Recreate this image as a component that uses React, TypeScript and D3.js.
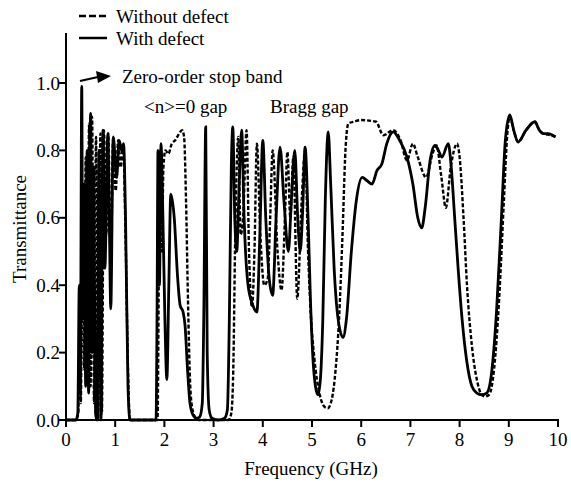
import React from "react";
import * as d3 from "d3";

const xTicks = [0, 1, 2, 3, 4, 5, 6, 7, 8, 9, 10];
const yTicks = [0, 0.2, 0.4, 0.6, 0.8, 1.0];

// Without defect (dashed)
const withoutFreq = [
  0, 0.2, 0.25, 0.28, 0.3, 0.34, 0.37, 0.4, 0.43, 0.47, 0.5, 0.53, 0.57, 0.61, 0.65, 0.7, 0.73, 0.77, 0.82, 0.86, 0.91, 0.96, 1.01, 1.06, 1.11, 1.16, 1.21, 1.26, 1.3,
  1.86, 1.89, 1.92, 1.95, 1.98, 2.02, 2.08, 2.15, 2.22, 2.3, 2.36, 2.4, 2.44, 2.48, 2.52, 2.56, 2.62, 2.7, 3.3, 3.36, 3.4,
  3.44, 3.47, 3.5, 3.55, 3.6, 3.67, 3.72, 3.78, 3.83, 3.88, 3.95, 4.03, 4.1, 4.15, 4.2, 4.3, 4.38, 4.45, 4.5, 4.56, 4.62,
  4.7, 4.79, 4.86, 4.92, 4.97, 5.05, 5.15, 5.25, 5.32, 5.4, 5.48, 5.55, 5.62, 5.68, 5.74, 5.85, 6.0, 6.3, 6.45, 6.65, 6.8, 6.93,
  7.05, 7.15, 7.32, 7.45, 7.53, 7.63, 7.72, 7.82, 7.95, 8.0, 8.08, 8.15, 8.25, 8.35, 8.45, 8.52, 8.6, 8.7, 8.8, 8.9,
  8.97, 9.02, 9.1, 9.19, 9.35, 9.53, 9.62, 9.7, 9.85, 9.95,
];
const withoutT = [
  0, 0, 0.02, 0.3, 0.05, 0.62, 0.15, 0.78, 0.25, 0.88, 0.1, 0.9, 0.05, 0.84, 0.0, 0.85, 0.02, 0.86, 0.55, 0.85, 0.45, 0.84, 0.68, 0.83, 0.75, 0.82, 0.55, 0.15, 0.0,
  0, 0.5, 0.8, 0.5, 0.75, 0.8, 0.79, 0.82, 0.83, 0.85, 0.86, 0.84, 0.65, 0.35, 0.12, 0.04, 0.01, 0, 0, 0.02, 0.15,
  0.55, 0.75, 0.84, 0.55, 0.6, 0.86, 0.5, 0.335, 0.5, 0.82, 0.55, 0.4, 0.42, 0.6, 0.8, 0.5, 0.385, 0.6, 0.795, 0.6, 0.78,
  0.36, 0.65, 0.8, 0.5, 0.33, 0.18, 0.08, 0.04, 0.035, 0.06, 0.15, 0.3, 0.55, 0.8, 0.88, 0.885, 0.89, 0.885, 0.845, 0.86, 0.83, 0.77,
  0.82, 0.78, 0.72, 0.79, 0.815, 0.72, 0.63, 0.75, 0.82, 0.78, 0.6, 0.4, 0.22, 0.12, 0.075, 0.07, 0.075, 0.15, 0.35, 0.65,
  0.85, 0.9, 0.86, 0.825, 0.86, 0.885, 0.86, 0.85, 0.845, 0.84,
];

// With defect (solid)
const withFreq = [
  0, 0.2, 0.24, 0.27, 0.29, 0.32, 0.34, 0.37, 0.4, 0.43, 0.46, 0.5, 0.53, 0.56, 0.6, 0.63, 0.67, 0.71, 0.75, 0.79, 0.85, 0.88, 0.91, 0.96, 1.03, 1.08, 1.13, 1.17, 1.21, 1.26, 1.3,
  1.83, 1.85, 1.87, 1.9, 1.93, 1.97, 2.01, 2.05, 2.09, 2.13, 2.2, 2.27, 2.32, 2.38, 2.42, 2.47, 2.52, 2.58, 2.65, 2.72, 2.77, 2.8, 2.84, 2.87, 2.91, 2.97, 3.1, 3.22, 3.28,
  3.32, 3.36, 3.39, 3.43, 3.47, 3.52, 3.57, 3.62, 3.7, 3.8, 3.88, 3.94, 4.0, 4.06, 4.13, 4.2, 4.27, 4.35, 4.43, 4.52, 4.58, 4.65, 4.71, 4.76, 4.81, 4.86,
  4.92, 4.97, 5.02, 5.07, 5.12, 5.17, 5.22, 5.27, 5.33, 5.38, 5.45, 5.53, 5.63, 5.7, 5.8, 5.9, 6.02, 6.12, 6.22, 6.32, 6.42, 6.52, 6.65, 6.78, 6.93,
  7.05, 7.15, 7.23, 7.3, 7.4, 7.5, 7.57, 7.64, 7.77, 7.83, 7.9, 7.97, 8.05, 8.15, 8.25, 8.35, 8.45, 8.55, 8.65, 8.75, 8.85, 8.93, 9.02, 9.1, 9.19, 9.35, 9.53, 9.62, 9.7, 9.8, 9.95,
];
const withT = [
  0, 0, 0.02, 0.4, 0.08, 0.99, 0.3, 0.7, 0.1, 0.8, 0.08, 0.91, 0.2, 0.75, 0.02, 0.0, 0.8, 0.0, 0.86, 0.45, 0.85, 0.6, 0.33, 0.84, 0.72, 0.83, 0.8, 0.82, 0.6, 0.1, 0.0,
  0, 0.3, 0.8, 0.4, 0.82, 0.6, 0.3, 0.12, 0.4, 0.67, 0.6, 0.42, 0.34, 0.32, 0.28, 0.15, 0.05, 0.015, 0.005, 0.01, 0.05, 0.3, 0.87, 0.2, 0.03, 0.005, 0, 0.005, 0.03,
  0.3, 0.75, 0.87, 0.6, 0.5, 0.7, 0.86, 0.6, 0.4, 0.34, 0.32, 0.55, 0.83, 0.6, 0.42, 0.37, 0.6, 0.81, 0.65, 0.5, 0.65, 0.8, 0.6, 0.5, 0.62, 0.81,
  0.6, 0.35, 0.18, 0.1, 0.075, 0.12, 0.3, 0.65, 0.855, 0.7, 0.45, 0.3, 0.245, 0.3, 0.5, 0.65, 0.72, 0.71, 0.7, 0.74, 0.76, 0.82, 0.855, 0.83, 0.78,
  0.7, 0.6, 0.57, 0.63, 0.77, 0.815, 0.8, 0.78, 0.82, 0.75, 0.6, 0.45, 0.3, 0.17, 0.1, 0.08, 0.075, 0.08, 0.14, 0.32, 0.6, 0.83, 0.905, 0.86, 0.825, 0.86, 0.885, 0.86, 0.85, 0.85, 0.84,
];

const W = 571;
const H = 483;
const FONT = "Liberation Serif, DejaVu Serif, serif";
const txt = { fontFamily: FONT, fill: "#000" } as React.CSSProperties;

export default function App() {
  const x = d3.scaleLinear().domain([0, 10]).range([66, 558]);
  const y = d3.scaleLinear().domain([0, 1]).range([420, 83]);

  const mk = (fs: number[], ts: number[]) =>
    d3
      .line<number>()
      .x((d) => x(d))
      .y((d, i) => y(ts[i]))
      .curve(d3.curveMonotoneX)(fs) || "";

  const pathWithout = mk(withoutFreq, withoutT);
  const pathWith = mk(withFreq, withT);

  return (
    <svg
      width={W}
      height={H}
      style={{ position: "absolute", left: 0, top: 0, background: "#fff" }}
    >
      <rect width={W} height={H} fill="#fff" />
      {/* curves */}
      <path d={pathWithout} fill="none" stroke="#000" strokeWidth={2.4} strokeDasharray="4,2" />
      <path d={pathWith} fill="none" stroke="#000" strokeWidth={2.8} />

      {/* axes */}
      <line x1={x(0)} x2={x(0)} y1={33} y2={y(0) + 1} stroke="#000" strokeWidth={2} />
      <line x1={x(0) - 1} x2={x(10) + 1} y1={y(0)} y2={y(0)} stroke="#000" strokeWidth={2} />
      {yTicks.map((t) => (
        <g key={"y" + t}>
          <line x1={x(0) - 7} x2={x(0)} y1={y(t)} y2={y(t)} stroke="#000" strokeWidth={2} />
          <text x={x(0) - 6} y={y(t) + 6.5} fontSize={19} textAnchor="end" style={txt}>
            {t.toFixed(1)}
          </text>
        </g>
      ))}
      {xTicks.map((t) => (
        <g key={"x" + t}>
          <line x1={x(t)} x2={x(t)} y1={y(0)} y2={y(0) + 7} stroke="#000" strokeWidth={2} />
          <text x={x(t)} y={446} fontSize={19} textAnchor="middle" style={txt}>
            {t}
          </text>
        </g>
      ))}
      <text x={311} y={475} fontSize={19} textAnchor="middle" style={txt}>
        Frequency (GHz)
      </text>
      <text transform="translate(26,229) rotate(-90)" fontSize={19} textAnchor="middle" style={txt}>
        Transmittance
      </text>

      {/* legend */}
      <line x1={79} x2={107} y1={16} y2={16} stroke="#000" strokeWidth={2.5} strokeDasharray="7,3" />
      <text x={116} y={23} fontSize={19} style={txt}>
        Without defect
      </text>
      <line x1={79} x2={107} y1={38} y2={38} stroke="#000" strokeWidth={2.5} />
      <text x={116} y={45} fontSize={19} style={txt}>
        With defect
      </text>

      {/* annotations */}
      <line x1={80} y1={81} x2={98} y2={77} stroke="#000" strokeWidth={2.2} />
      <path d="M96,71 L111,76 L98,83 Z" fill="#000" />
      <text x={122} y={83} fontSize={19} style={txt}>
        Zero-order stop band
      </text>
      <text x={144} y={113} fontSize={19} style={txt}>
        {"<n>=0 gap"}
      </text>
      <text x={270} y={113} fontSize={19} style={txt}>
        Bragg gap
      </text>
    </svg>
  );
}
